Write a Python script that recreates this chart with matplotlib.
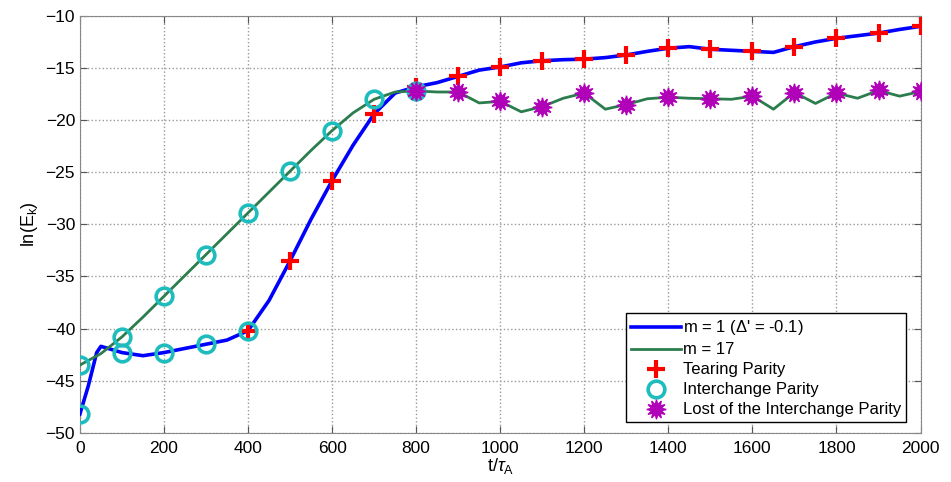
import numpy as np
import matplotlib
matplotlib.use("Agg")
import matplotlib.pyplot as plt

plt.rcParams['font.family'] = ['Liberation Sans', 'DejaVu Sans']
plt.rcParams['mathtext.fontset'] = 'custom'
plt.rcParams['mathtext.rm'] = 'Liberation Sans'
plt.rcParams['mathtext.it'] = 'Liberation Sans:italic'

# m = 1 curve (blue)
t_m1 = [0, 20, 40, 50, 75, 100, 150, 200, 250, 300, 350, 400, 450, 500, 550, 600,
        650, 700, 750, 800, 850, 900, 950, 1000, 1050, 1100, 1150, 1200, 1250, 1300,
        1350, 1400, 1450, 1500, 1550, 1600, 1650, 1700, 1750, 1800, 1850, 1900, 1950, 2000]
e_m1 = [-48.2, -45.5, -42.3, -41.7, -42.0, -42.3, -42.6, -42.3, -41.9, -41.5, -41.1, -40.2,
        -37.3, -33.5, -29.5, -25.8, -22.4, -19.4, -17.4, -16.8, -16.4, -15.8, -15.2, -14.9,
        -14.5, -14.3, -14.2, -14.15, -14.0, -13.75, -13.4, -13.1, -12.95, -13.2, -13.3,
        -13.4, -13.5, -12.95, -12.5, -12.15, -11.9, -11.65, -11.3, -11.0]

# m = 17 curve (green)
t_m17 = [0, 50, 100, 150, 200, 250, 300, 350, 400, 450, 500, 550, 600, 650, 700, 750, 800,
         850, 900, 950, 1000, 1050, 1100, 1150, 1200, 1250, 1300, 1350, 1400, 1450, 1500,
         1550, 1600, 1650, 1700, 1750, 1800, 1850, 1900, 1950, 2000]
e_m17 = [-43.5, -42.4, -40.8, -38.9, -36.9, -34.9, -32.9, -30.9, -28.9, -26.9, -24.9, -22.9,
         -21.0, -19.3, -18.0, -17.3, -17.2, -17.3, -17.3, -18.35, -18.2, -19.2, -18.7, -17.9,
         -17.4, -18.95, -18.5, -17.95, -17.8, -17.9, -17.95, -18.0, -17.7, -18.95, -17.35,
         -18.4, -17.4, -17.9, -17.15, -17.7, -17.25]

# markers
t_tear = [400, 500, 600, 700, 800, 900, 1000, 1100, 1200, 1300, 1400, 1500, 1600, 1700, 1800, 1900, 2000]
e_tear = [-40.2, -33.5, -25.8, -19.4, -16.8, -15.8, -14.9, -14.3, -14.15, -13.75, -13.1,
          -13.2, -13.4, -12.95, -12.15, -11.65, -11.0]
t_inter = [0, 100, 200, 300, 400, 0, 100, 200, 300, 400, 500, 600, 700, 800]
e_inter = [-48.2, -42.3, -42.3, -41.5, -40.2, -43.5, -40.8, -36.9, -32.9, -28.9, -24.9, -21.0, -18.0, -17.2]
t_lost = [800, 900, 1000, 1100, 1200, 1300, 1400, 1500, 1600, 1700, 1800, 1900, 2000]
e_lost = [-17.2, -17.3, -18.2, -18.7, -17.4, -18.5, -17.8, -17.95, -17.7, -17.35, -17.4, -17.15, -17.25]

fig = plt.figure(figsize=(9.51, 4.82), dpi=100)
ax = fig.add_axes([0.084, 0.102, 0.884, 0.865])

ax.plot(t_m1, e_m1, color='#0000ff', lw=2.6, label="m = 1 ($\\Delta$' = -0.1)", zorder=3)
ax.plot(t_m17, e_m17, color='#2b7d4d', lw=2.0, label='m = 17', zorder=3)
ax.plot(t_tear, e_tear, ls='none', marker='+', ms=13, mew=3.0, color='#ff0000',
        label='Tearing Parity', zorder=4)
ax.plot(t_inter, e_inter, ls='none', marker='o', ms=12, mew=2.6, mfc='none', mec='#1ebcbc',
        label='Interchange Parity', zorder=5)
ax.plot(t_lost, e_lost, ls='none', marker=(12, 1, 0), ms=14, color='#b000b8',
        label='Lost of the Interchange Parity', zorder=6)

ax.set_xlim(0, 2000)
ax.set_ylim(-50, -10)
ax.set_xticks(np.arange(0, 2001, 200))
ax.set_yticks(np.arange(-50, -9, 5))
ax.tick_params(direction='in', top=True, right=True, labelsize=12.5, length=5, color='#555555')
ax.tick_params(axis='x', pad=6)
for s in ax.spines.values():
    s.set_color('#888888')
ax.grid(True, ls=':', color='#999999', lw=1.0)
ax.set_xlabel(r't/$\tau_\mathrm{A}$', fontsize=13, labelpad=0)
ax.set_ylabel(r'ln(E$_\mathrm{k}$)', fontsize=13, labelpad=4)

leg = ax.legend(loc='lower right', fontsize=12, frameon=True, fancybox=False, framealpha=1,
                edgecolor='black', handlelength=3.0, handletextpad=0.1, borderaxespad=0.5,
                labelspacing=0.3, borderpad=0.3, bbox_to_anchor=(0.993, 0.005))
leg.get_frame().set_linewidth(1.0)

fig.savefig('out.png', dpi=100)
